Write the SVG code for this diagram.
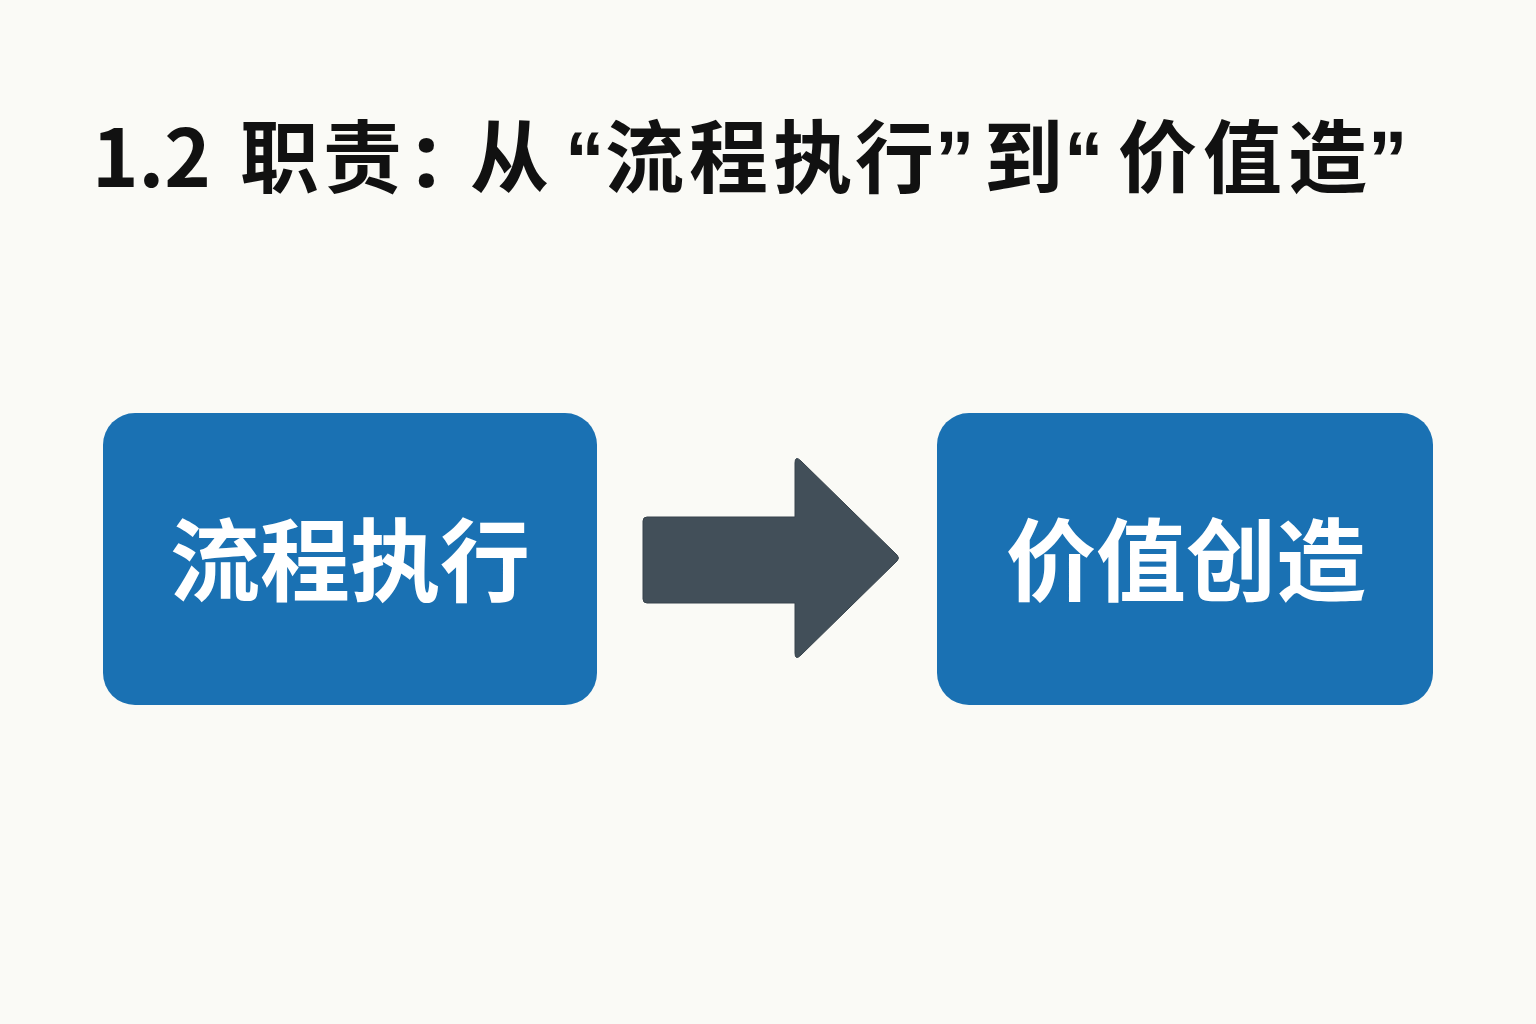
<svg xmlns="http://www.w3.org/2000/svg" width="1536" height="1024" viewBox="0 0 1536 1024">
<style>
.box{fill:#1a71b3;}
.lbl{font-family:"Noto Sans CJK SC","Noto Sans",sans-serif;font-weight:700;font-size:90px;fill:#ffffff;text-anchor:middle;}
.title{font-family:"Noto Sans CJK SC","Noto Sans",sans-serif;font-weight:700;font-size:79px;fill:#111111;}
.p{font-family:"Noto Sans","DejaVu Sans",sans-serif;}
.q{font-family:"Liberation Sans","Noto Sans",sans-serif;}
</style>
<rect width="1536" height="1024" fill="#fafaf6"/>
<text class="title" y="187"><tspan x="92">1.2</tspan><tspan x="240">职</tspan><tspan x="323">责</tspan><tspan class="p" x="414" font-size="88">:</tspan><tspan x="470">从</tspan><tspan class="q" x="565">“</tspan><tspan x="605">流</tspan><tspan x="689">程</tspan><tspan x="773">执</tspan><tspan x="855">行</tspan><tspan class="q" x="935">”</tspan><tspan x="984">到</tspan><tspan class="q" x="1064">“</tspan><tspan x="1118">价</tspan><tspan x="1203">值</tspan><tspan x="1288">造</tspan><tspan class="q" x="1368">”</tspan></text>
<g id="node-process">
<rect class="box" x="103" y="413" width="494" height="292" rx="32"/>
<text class="lbl" x="350" y="594">流程执行</text>
</g>
<g id="node-value">
<rect class="box" x="937" y="413" width="496" height="292" rx="32"/>
<text class="lbl" x="1186" y="594">价值创造</text>
</g>
<g id="connectors">
<path d="M647 517 L795 517 L795 463 Q795 455 801 461 L897 555 Q900 558 897 561 L801 655 Q795 661 795 653 L795 603 L647 603 Q643 603 643 599 L643 521 Q643 517 647 517 Z" fill="#424f59" stroke="#37434c" stroke-width="1"/>
</g>
</svg>
